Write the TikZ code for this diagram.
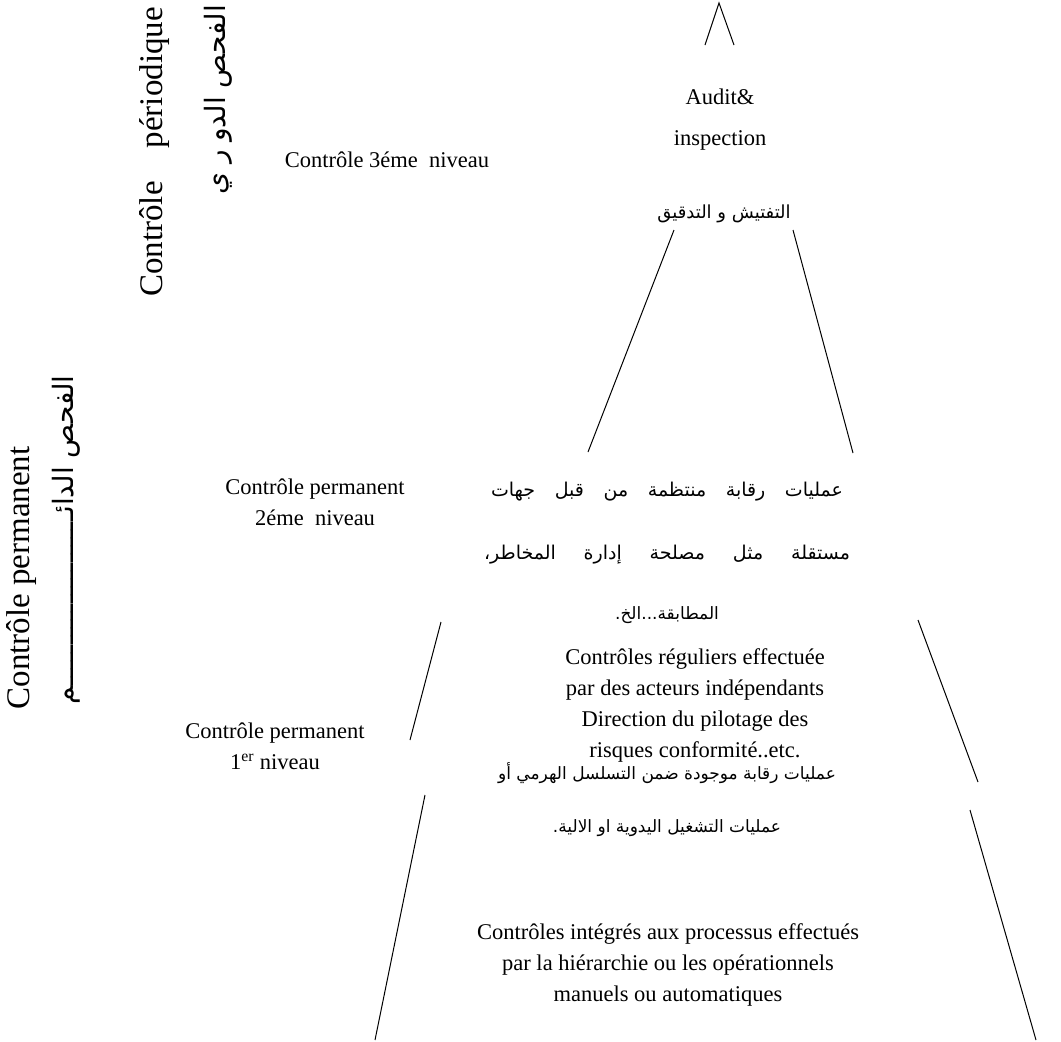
\documentclass[tikz,border=0pt]{standalone}
\usepackage{fontspec}
\setmainfont{Liberation Serif}
\newfontfamily\arabicfont[Script=Arabic]{DejaVu Sans}
\TeXXeTstate=1
\begin{document}
\begin{tikzpicture}[x=1pt,y=-1pt,
  lbl/.style={font=\rmfamily\fontsize{22.5}{31}\selectfont, align=center, inner sep=0pt},
  rotlbl/.style={font=\rmfamily\fontsize{33}{36}\selectfont, rotate=90, inner sep=0pt},
  ar/.style={font=\arabicfont\fontsize{17}{20}\selectfont, inner sep=0pt},
  arwide/.style={font=\arabicfont\fontsize{19}{22}\selectfont, inner sep=0pt},
  rotar/.style={font=\arabicfont\fontsize{28}{30}\selectfont, rotate=90, inner sep=0pt},
  side/.style={line width=1pt}]
\useasboundingbox (0,0) rectangle (1061,1042);
% pyramid sides
\coordinate (apL) at (705,45); \coordinate (apT) at (719,3); \coordinate (apR) at (734,45);
\coordinate (t1a) at (674,230); \coordinate (t1b) at (588,452);
\coordinate (t2a) at (793,230); \coordinate (t2b) at (853,453);
\coordinate (m1a) at (441,622); \coordinate (m1b) at (410,740);
\coordinate (m2a) at (918,620); \coordinate (m2b) at (978,782);
\coordinate (b1a) at (425,795); \coordinate (b1b) at (375,1040);
\coordinate (b2a) at (970,810); \coordinate (b2b) at (1036,1040);
\draw[side] (apL) -- (apT) -- (apR);
\draw[side] (t1a) -- (t1b);
\draw[side] (t2a) -- (t2b);
\draw[side] (m1a) -- (m1b);
\draw[side] (m2a) -- (m2b);
\draw[side] (b1a) -- (b1b);
\draw[side] (b2a) -- (b2b);
% rotated side labels
\node[rotlbl] (rp) at (155,152) {Contrôle\hspace{1em}périodique};
\node[rotar] (rpa) at (218,100) {\beginR الفحص الدو ر ي\endR};
\node[rotlbl] (rperm) at (22,578) {Contrôle permanent};
\node[rotar] (rperma) at (66,540) {\beginR الفحص الدائـــــــــــــــــــــم\endR};
% level 3
\node[lbl] (c3) at (387,160) {Contrôle 3éme\ \ niveau};
\node[lbl, font=\rmfamily\fontsize{22.5}{41}\selectfont] (audit) at (720,120) {Audit\&\\inspection};
\node[ar, font=\arabicfont\fontsize{18}{20}\selectfont] (audita) at (724,214) {\beginR التفتيش و التدقيق\endR};
% level 2
\node[lbl] (c2) at (315,502) {Contrôle permanent\\2éme\ \ niveau};
\node[arwide] (a2a) at (667,492) {\makebox[352pt][s]{\beginR عمليات رقابة منتظمة من قبل جهات\endR}};
\node[arwide] (a2b) at (667,555) {\makebox[366pt][s]{\beginR مستقلة مثل مصلحة إدارة المخاطر،\endR}};
\node[ar] (a2c) at (667,615) {\beginR المطابقة...الخ.\endR};
\node[lbl] (f2) at (695,705) {Contrôles réguliers effectuée\\par des acteurs indépendants\\Direction du pilotage des\\risques conformité..etc.};
% level 1
\node[lbl] (c1) at (275,746) {Contrôle permanent\\1\textsuperscript{er} niveau};
\node[ar] (a1a) at (667,773) {\beginR عمليات رقابة موجودة ضمن التسلسل الهرمي أو\endR};
\node[ar] (a1b) at (667,828) {\beginR عمليات التشغيل اليدوية او الالية.\endR};
\node[lbl] (f1) at (668,965) {Contrôles intégrés aux processus effectués\\par la hiérarchie ou les opérationnels\\manuels ou automatiques};
\end{tikzpicture}
\end{document}
